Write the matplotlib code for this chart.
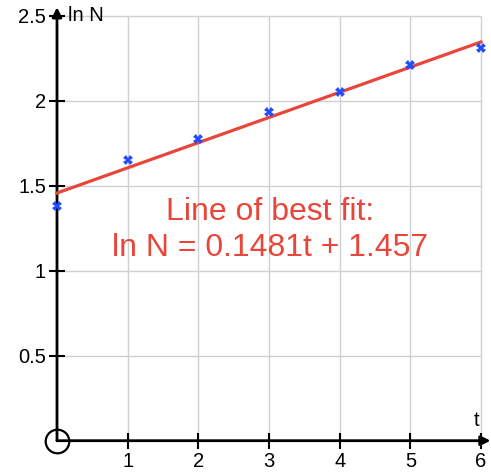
import numpy as np
import matplotlib
matplotlib.use("Agg")
from matplotlib import pyplot as plt

plt.rcParams['font.family'] = ['Liberation Sans', 'DejaVu Sans']

# data
t_vals = [0, 1, 2, 3, 4, 5, 6]
lnN_vals = [1.381, 1.651, 1.777, 1.932, 2.051, 2.208, 2.31]
slope = 0.1481
intercept = 1.457
x_ticks = [1, 2, 3, 4, 5, 6]
y_ticks = [0.5, 1, 1.5, 2, 2.5]
y_ticklabels = ["0.5", "1", "1.5", "2", "2.5"]

red = "#e8463a"
blue = "#1f4cff"

fig = plt.figure(figsize=(4.91, 4.72), dpi=100)
ax = fig.add_axes([57 / 491, 31.3 / 472, 424 / 491, 425 / 472])
ax.set_xlim(0, 6)
ax.set_ylim(0, 2.5)
for s in ax.spines.values():
    s.set_visible(False)

# grid
ax.vlines(x_ticks, 0, 2.5, color="#d0d0d0", lw=1, clip_on=False, zorder=0)
ax.hlines(y_ticks, 0, 6, color="#d0d0d0", lw=1, clip_on=False, zorder=0)

# axes with arrows
ax.annotate("", xy=(6.135, 0), xytext=(0, 0),
            arrowprops=dict(arrowstyle="-|>", color="black", lw=2, mutation_scale=14,
                            shrinkA=0, shrinkB=0), annotation_clip=False)
ax.annotate("", xy=(0, 2.55), xytext=(0, 0),
            arrowprops=dict(arrowstyle="-|>", color="black", lw=2, mutation_scale=14,
                            shrinkA=0, shrinkB=0), annotation_clip=False)
ax.plot([0], [0], "o", ms=17, mfc="none", mec="black", mew=1.6, clip_on=False)

ax.set_xticks(x_ticks)
ax.set_yticks(y_ticks)
ax.set_yticklabels(y_ticklabels)
ax.tick_params(direction="inout", length=12, width=1.5, labelsize=14.5, color="black")
ax.tick_params(axis="x", pad=2)
ax.tick_params(axis="y", pad=2)

ax.text(0.15, 2.5, "ln N", fontsize=14.5, ha="left", va="center")
ax.text(5.9, 0.06, "t", fontsize=14.5, ha="left", va="bottom")

# best fit line and points
tt = np.array([0, 6])
ax.plot(tt, slope * tt + intercept, color=red, lw=2.3, clip_on=False, zorder=3)
ax.plot(t_vals, lnN_vals, "X", color=blue, ms=7, mew=0, clip_on=False, zorder=4)

ax.text(3.01, 1.24, "Line of best fit:\nln N = 0.1481t + 1.457", color=red,
        fontsize=23, ha="center", va="center", linespacing=1.25)

fig.savefig("out.png", dpi=100)
